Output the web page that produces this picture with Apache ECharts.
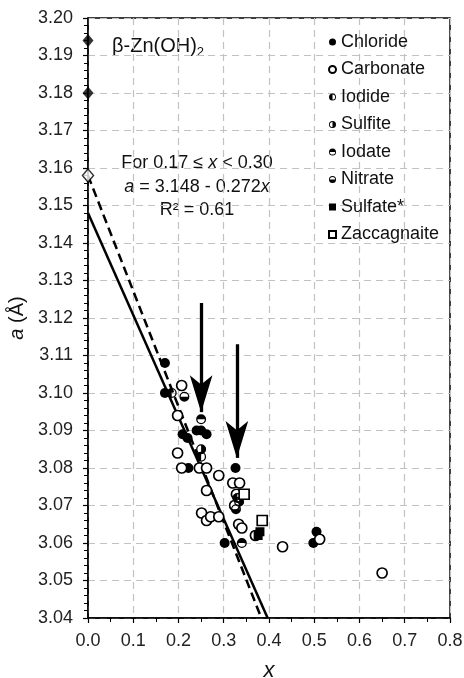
<!DOCTYPE html>
<html><head><meta charset="utf-8">
<script src="https://cdn.jsdelivr.net/npm/echarts@6/dist/echarts.min.js"></script>
<style>html,body{margin:0;padding:0;background:#fff}#c{width:464px;height:678px}</style>
</head><body><div id="c"></div>
<script>
// ---- data ----
const chloride = [[0.17,3.108],[0.17,3.100],[0.209,3.089],[0.22,3.088],[0.222,3.080],[0.24,3.090],[0.25,3.090],[0.262,3.089],[0.326,3.080],[0.302,3.060],[0.505,3.063],[0.498,3.060]];
const carbonate = [[0.207,3.102],[0.198,3.094],[0.198,3.084],[0.207,3.080],[0.246,3.080],[0.262,3.080],[0.289,3.078],[0.262,3.074],[0.251,3.068],[0.262,3.066],[0.271,3.067],[0.289,3.067],[0.32,3.076],[0.335,3.076],[0.328,3.073],[0.324,3.070],[0.333,3.065],[0.37,3.062],[0.43,3.059],[0.512,3.061],[0.65,3.052],[0.34,3.064]];
const iodide = [[0.185,3.100],[0.25,3.083],[0.33,3.072]];
const sulfite = [[0.25,3.085],[0.334,3.071]];
const iodate = [[0.25,3.093],[0.34,3.060]];
const nitrate = [[0.213,3.099],[0.327,3.069]];
const sulfate = [[0.38,3.063],[0.376,3.062]];
const zaccagnaite = [[0.345,3.073],[0.385,3.066]];
const betaZnFilled = [[0,3.194],[0,3.180]];
const betaZnOpen = [[0,3.158]];
const fitSolid = [[0,3.148],[0.397,3.04]];
const fitDashed = [[0,3.158],[0.383,3.04]];
const arrow1 = [[0.25,3.124],[0.25,3.0949]];
const arrow2 = [[0.329,3.113],[0.329,3.0827]];
const xTicks = ['0.0','0.1','0.2','0.3','0.4','0.5','0.6','0.7','0.8'];
const legendNames = ['Chloride','Carbonate','Iodide','Sulfite','Iodate','Nitrate','Sulfate*','Zaccagnaite'];

// ---- half-filled symbol paths ----
const ring = 'M0,-10 A10,10 0 1,1 0,10 A10,10 0 1,1 0,-10 Z M0,-7.4 A7.4,7.4 0 1,0 0,7.4 A7.4,7.4 0 1,0 0,-7.4 Z ';
const halfLeft = 'M0,-7.4 A7.4,7.4 0 0,0 0,7.4 Z';
const halfRight = 'M0,-7.4 A7.4,7.4 0 0,1 0,7.4 Z';
const halfTop = 'M-7.4,0 A7.4,7.4 0 0,1 7.4,0 Z';
const halfBottom = 'M-7.4,0 A7.4,7.4 0 0,0 7.4,0 Z';
const P = s => 'path://' + ring + s;

const chart = echarts.init(document.getElementById('c'));
const FONT = 'Liberation Sans, Arial, sans-serif';
function sc(name, data, symbol, fill, size) {
  return {
    name, type: 'scatter', data, symbol, symbolSize: size || 10,
    itemStyle: { color: fill, borderColor: '#000', borderWidth: fill === '#fff' ? 1.7 : 0, opacity: 1 },
    z: 5
  };
}
const series = [
  sc('Chloride', chloride, 'circle', '#000'),
  sc('Carbonate', carbonate, 'circle', '#fff'),
  sc('Iodide', iodide, P(halfLeft), '#000'),
  sc('Sulfite', sulfite, P(halfRight), '#000'),
  sc('Iodate', iodate, P(halfTop), '#000'),
  sc('Nitrate', nitrate, P(halfBottom), '#000'),
  sc('Sulfate*', sulfate, 'rect', '#000', 9),
  sc('Zaccagnaite', zaccagnaite, 'rect', '#fff', 10),
  { type: 'scatter', data: betaZnFilled, symbol: 'diamond', symbolSize: [11, 13], itemStyle: { color: '#000' }, z: 6 },
  { type: 'scatter', data: betaZnOpen, symbol: 'diamond', symbolSize: [11, 13], itemStyle: { color: '#fff', borderColor: '#000', borderWidth: 1.5 }, z: 6 },
  { type: 'line', data: fitSolid, symbol: 'none', lineStyle: { color: '#000', width: 2.5 }, z: 3 },
  { type: 'line', data: fitDashed, symbol: 'none', lineStyle: { color: '#000', width: 2.5, type: [9, 5] }, z: 3 },
  { type: 'line', data: [], symbol: 'none',
    markLine: { silent: true, symbol: ['none', 'arrow'], symbolSize: [17, 37], label: { show: false },
      lineStyle: { color: '#000', width: 3.3, type: 'solid' },
      data: [
        [{ coord: arrow1[0] }, { coord: arrow1[1] }],
        [{ coord: arrow2[0] }, { coord: arrow2[1] }]
      ] }, z: 4 }
];

chart.setOption({
  animation: false,
  backgroundColor: '#fff',
  textStyle: { fontFamily: FONT },
  grid: { left: 88, right: 14, top: 18, bottom: 60, containLabel: false, outerBoundsMode: 'none',
    show: true, borderColor: '#000', borderWidth: 1.5, backgroundColor: 'transparent' },
  xAxis: {
    type: 'value', min: 0, max: 0.8, interval: 0.1,
    name: 'x', nameLocation: 'middle', nameGap: 42,
    nameTextStyle: { fontSize: 22, fontStyle: 'italic', color: '#111', fontFamily: FONT },
    axisLine: { lineStyle: { color: '#000', width: 1.5 } },
    axisTick: { show: true, length: 5, lineStyle: { color: '#000', width: 1.2 } },
    minorTick: { show: true, splitNumber: 2, length: 4, lineStyle: { color: '#000', width: 1 } },
    axisLabel: { fontSize: 18, color: '#222', margin: 14, formatter: (v) => xTicks[Math.round(v * 10)] },
    splitLine: { show: true, lineStyle: { color: '#c2c2c2', type: [7, 5], width: 1.2 } }
  },
  yAxis: {
    type: 'value', min: 3.04, max: 3.20, interval: 0.01,
    name: '{i|a} (Å)', nameLocation: 'middle', nameGap: 56, nameRotate: 90,
    nameTextStyle: { fontSize: 20, color: '#111', fontFamily: FONT, rich: { i: { fontStyle: 'italic', fontSize: 20, fontFamily: FONT, color: '#111' } } },
    axisLine: { lineStyle: { color: '#000', width: 1.5 } },
    axisTick: { show: true, length: 5, lineStyle: { color: '#000', width: 1.2 } },
    minorTick: { show: true, splitNumber: 5, length: 4, lineStyle: { color: '#000', width: 1 } },
    axisLabel: { fontSize: 18, color: '#222', margin: 15, formatter: (v) => v.toFixed(2) },
    splitLine: { show: true, lineStyle: { color: '#c2c2c2', type: [7, 5], width: 1.2 } }
  },
  legend: {
    data: legendNames, orient: 'vertical', left: 328, top: 32,
    itemWidth: 7, itemHeight: 7, itemGap: 7.5, selectedMode: false,
    textStyle: { fontSize: 18, color: '#111', fontFamily: FONT, lineHeight: 20 },
    padding: 0
  },
  graphic: [
    { type: 'text', left: 112, top: 36, style: { text: 'β-Zn(OH){s|2}', font: '20px ' + FONT, fill: '#111',
        rich: { s: { fontSize: 13, verticalAlign: 'bottom', padding: [12, 0, 0, 0], fontFamily: FONT, fill: '#111' } } } },
    { type: 'text', x: 197, y: 163, style: { text: 'For 0.17 ≤ {i|x} < 0.30', font: '18px ' + FONT, fill: '#111', align: 'center', verticalAlign: 'middle',
        rich: { i: { fontStyle: 'italic', fontSize: 18, fontFamily: FONT } } } },
    { type: 'text', x: 197, y: 187, style: { text: '{i|a} = 3.148 - 0.272{i|x}', font: '18px ' + FONT, fill: '#111', align: 'center', verticalAlign: 'middle',
        rich: { i: { fontStyle: 'italic', fontSize: 18, fontFamily: FONT } } } },
    { type: 'text', x: 197, y: 210, style: { text: 'R² = 0.61', font: '18px ' + FONT, fill: '#111', align: 'center', verticalAlign: 'middle' } }
  ],
  series
});
</script></body></html>
